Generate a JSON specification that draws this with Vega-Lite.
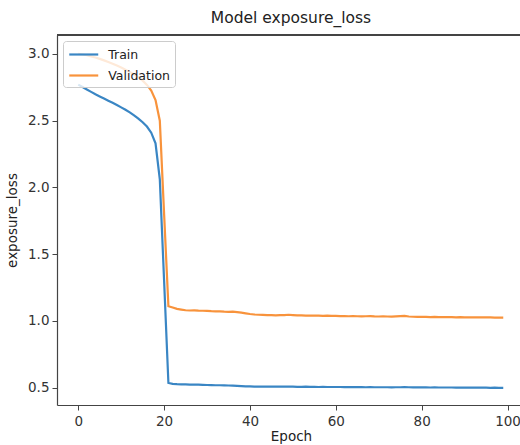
{
  "$schema": "https://vega.github.io/schema/vega-lite/v6.json",
  "autosize": "none",
  "width": 463,
  "height": 370,
  "padding": {"left": 57, "top": 35, "right": 0, "bottom": 40},
  "background": "white",
  "title": {"text": "Model exposure_loss", "fontSize": 15.5, "font": "DejaVu Sans", "fontWeight": "normal", "color": "#222", "offset": 8, "dx": 2.5},
  "config": {
    "view": {"stroke": null},
    "font": "DejaVu Sans",
    "axis": {"grid": false, "domainColor": "#444", "tickColor": "#444", "tickSize": 5, "labelFont": "DejaVu Sans", "labelFontSize": 13.5, "labelColor": "#333", "titleFont": "DejaVu Sans", "titleFontSize": 13.5, "titleFontWeight": "normal", "titleColor": "#222", "domainWidth": 1.2}
  },
  "data": {"values": [
    {"epoch":0,"Train":2.770,"Validation":3.000},{"epoch":1,"Train":2.752,"Validation":2.996},{"epoch":2,"Train":2.734,"Validation":2.990},{"epoch":3,"Train":2.716,"Validation":2.982},{"epoch":4,"Train":2.698,"Validation":2.973},
    {"epoch":5,"Train":2.682,"Validation":2.963},{"epoch":6,"Train":2.666,"Validation":2.952},{"epoch":7,"Train":2.650,"Validation":2.940},{"epoch":8,"Train":2.634,"Validation":2.927},{"epoch":9,"Train":2.618,"Validation":2.913},
    {"epoch":10,"Train":2.600,"Validation":2.898},{"epoch":11,"Train":2.582,"Validation":2.882},{"epoch":12,"Train":2.562,"Validation":2.865},{"epoch":13,"Train":2.540,"Validation":2.847},{"epoch":14,"Train":2.516,"Validation":2.826},
    {"epoch":15,"Train":2.488,"Validation":2.800},{"epoch":16,"Train":2.456,"Validation":2.768},{"epoch":17,"Train":2.410,"Validation":2.725},{"epoch":18,"Train":2.330,"Validation":2.655},{"epoch":19,"Train":2.060,"Validation":2.500},
    {"epoch":20,"Train":1.300,"Validation":1.800},{"epoch":21,"Train":0.535,"Validation":1.110},{"epoch":22,"Train":0.528,"Validation":1.100},{"epoch":23,"Train":0.526,"Validation":1.090},{"epoch":24,"Train":0.525,"Validation":1.085},
    {"epoch":25,"Train":0.524,"Validation":1.080},{"epoch":26,"Train":0.523,"Validation":1.078},{"epoch":27,"Train":0.522,"Validation":1.079},{"epoch":28,"Train":0.522,"Validation":1.077},{"epoch":29,"Train":0.521,"Validation":1.076},
    {"epoch":30,"Train":0.520,"Validation":1.075},{"epoch":31,"Train":0.519,"Validation":1.073},{"epoch":32,"Train":0.518,"Validation":1.072},{"epoch":33,"Train":0.518,"Validation":1.071},{"epoch":34,"Train":0.517,"Validation":1.069},
    {"epoch":35,"Train":0.516,"Validation":1.068},{"epoch":36,"Train":0.515,"Validation":1.069},{"epoch":37,"Train":0.514,"Validation":1.066},{"epoch":38,"Train":0.512,"Validation":1.062},{"epoch":39,"Train":0.510,"Validation":1.057},
    {"epoch":40,"Train":0.509,"Validation":1.052},{"epoch":41,"Train":0.508,"Validation":1.048},{"epoch":42,"Train":0.508,"Validation":1.046},{"epoch":43,"Train":0.508,"Validation":1.045},{"epoch":44,"Train":0.507,"Validation":1.043},
    {"epoch":45,"Train":0.508,"Validation":1.044},{"epoch":46,"Train":0.507,"Validation":1.042},{"epoch":47,"Train":0.507,"Validation":1.044},{"epoch":48,"Train":0.508,"Validation":1.043},{"epoch":49,"Train":0.507,"Validation":1.046},
    {"epoch":50,"Train":0.507,"Validation":1.044},{"epoch":51,"Train":0.506,"Validation":1.042},{"epoch":52,"Train":0.506,"Validation":1.041},{"epoch":53,"Train":0.507,"Validation":1.040},{"epoch":54,"Train":0.506,"Validation":1.040},
    {"epoch":55,"Train":0.506,"Validation":1.039},{"epoch":56,"Train":0.505,"Validation":1.040},{"epoch":57,"Train":0.506,"Validation":1.038},{"epoch":58,"Train":0.505,"Validation":1.039},{"epoch":59,"Train":0.505,"Validation":1.038},
    {"epoch":60,"Train":0.505,"Validation":1.037},{"epoch":61,"Train":0.505,"Validation":1.036},{"epoch":62,"Train":0.504,"Validation":1.036},{"epoch":63,"Train":0.505,"Validation":1.035},{"epoch":64,"Train":0.504,"Validation":1.036},
    {"epoch":65,"Train":0.504,"Validation":1.035},{"epoch":66,"Train":0.504,"Validation":1.034},{"epoch":67,"Train":0.503,"Validation":1.035},{"epoch":68,"Train":0.504,"Validation":1.036},{"epoch":69,"Train":0.503,"Validation":1.034},
    {"epoch":70,"Train":0.503,"Validation":1.033},{"epoch":71,"Train":0.503,"Validation":1.034},{"epoch":72,"Train":0.503,"Validation":1.033},{"epoch":73,"Train":0.502,"Validation":1.032},{"epoch":74,"Train":0.503,"Validation":1.034},
    {"epoch":75,"Train":0.503,"Validation":1.036},{"epoch":76,"Train":0.504,"Validation":1.038},{"epoch":77,"Train":0.503,"Validation":1.033},{"epoch":78,"Train":0.502,"Validation":1.031},{"epoch":79,"Train":0.502,"Validation":1.030},
    {"epoch":80,"Train":0.502,"Validation":1.031},{"epoch":81,"Train":0.502,"Validation":1.030},{"epoch":82,"Train":0.501,"Validation":1.029},{"epoch":83,"Train":0.502,"Validation":1.030},{"epoch":84,"Train":0.501,"Validation":1.029},
    {"epoch":85,"Train":0.501,"Validation":1.028},{"epoch":86,"Train":0.501,"Validation":1.028},{"epoch":87,"Train":0.501,"Validation":1.029},{"epoch":88,"Train":0.500,"Validation":1.027},{"epoch":89,"Train":0.501,"Validation":1.028},
    {"epoch":90,"Train":0.500,"Validation":1.027},{"epoch":91,"Train":0.500,"Validation":1.026},{"epoch":92,"Train":0.500,"Validation":1.027},{"epoch":93,"Train":0.500,"Validation":1.026},{"epoch":94,"Train":0.500,"Validation":1.026},
    {"epoch":95,"Train":0.500,"Validation":1.027},{"epoch":96,"Train":0.499,"Validation":1.026},{"epoch":97,"Train":0.500,"Validation":1.025},{"epoch":98,"Train":0.499,"Validation":1.025},{"epoch":99,"Train":0.499,"Validation":1.025}
  ]},
  "layer": [
    {
      "transform": [{"fold": ["Train", "Validation"], "as": ["series", "loss"]}],
      "mark": {"type": "line", "strokeWidth": 2.2, "clip": true},
      "encoding": {
        "x": {"field": "epoch", "type": "quantitative", "title": "Epoch", "scale": {"domain": [-4.95, 102.9], "nice": false, "zero": false}, "axis": {"values": [0, 20, 40, 60, 80, 100], "labelPadding": 4, "titleX": 234, "titlePadding": 2}},
        "y": {"field": "loss", "type": "quantitative", "title": "exposure_loss", "scale": {"domain": [0.37, 3.142], "nice": false, "zero": false}, "axis": {"values": [0.5, 1.0, 1.5, 2.0, 2.5, 3.0], "format": ".1f", "labelPadding": 3, "titlePadding": 8}},
        "color": {"field": "series", "type": "nominal", "sort": ["Train", "Validation"], "scale": {"domain": ["Train", "Validation"], "range": ["#3a86c4", "#f8933c"]},
          "legend": {"title": null, "orient": "top-left", "offset": 6, "symbolType": "M-2,0H2", "symbolSize": 210, "symbolStrokeWidth": 2.2, "symbolOffset": 7.25, "labelFontSize": 12.5, "labelFont": "DejaVu Sans", "labelColor": "#222", "fillColor": "rgba(255,255,255,0.8)", "strokeColor": "#ccc", "cornerRadius": 3, "padding": 5, "rowPadding": 6, "labelOffset": 16}}
      }
    },
    {
      "mark": {"type": "rule", "color": "#444", "strokeWidth": 1.2},
      "encoding": {"y": {"datum": 3.142}}
    }
  ]
}
